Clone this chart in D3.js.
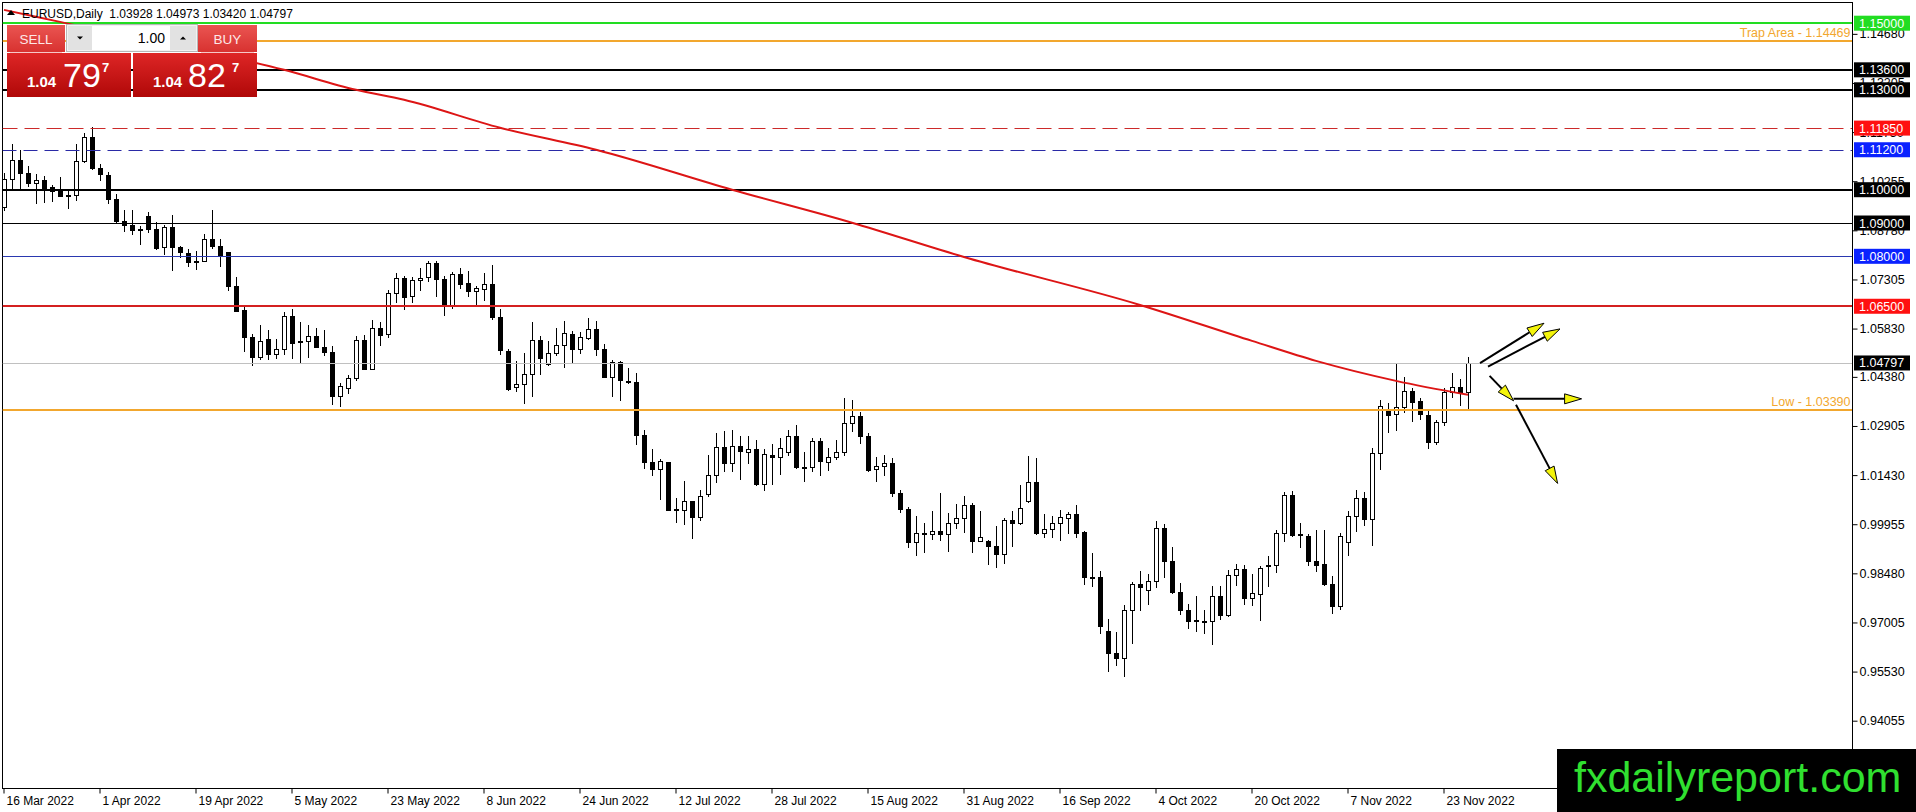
<!DOCTYPE html>
<html><head><meta charset="utf-8">
<script src="https://cdn.jsdelivr.net/npm/d3@7"></script>
<style>html,body{margin:0;padding:0;background:#fff;overflow:hidden}
text{font-family:"Liberation Sans",Arial,sans-serif}</style>
</head><body><svg id="c" width="1916" height="812"></svg>
<script>
// ---------------- DATA ----------------
const opens=[1.0948,1.1032,1.1090,1.1050,1.1020,1.1029,1.1009,1.1002,1.0984,1.0984,
1.1086,1.1158,1.1065,1.1044,1.0972,1.0906,1.0894,1.0881,1.0922,1.0882,
1.0828,1.0888,1.0829,1.0810,1.0786,1.0786,1.0853,1.0832,1.0812,1.0710,
1.0640,1.0558,1.0498,1.0552,1.0508,1.0522,1.0620,1.0546,1.0546,1.0562,
1.0529,1.0513,1.0380,1.0405,1.0435,1.0549,1.0462,1.0585,1.0567,1.0690,
1.0735,1.0680,1.0729,1.0738,1.0780,1.0732,1.0655,1.0747,1.0720,1.0695,
1.0702,1.0717,1.0618,1.0516,1.0407,1.0416,1.0447,1.0548,1.0476,1.0509,
1.0534,1.0566,1.0521,1.0554,1.0581,1.0521,1.0439,1.0482,1.0425,1.0422,
1.0264,1.0182,1.0161,1.0181,1.0041,1.0037,1.0064,1.0016,1.0086,1.0142,
1.0228,1.0178,1.0231,1.0212,1.0221,1.0116,1.0203,1.0197,1.0212,1.0261,
1.0167,1.0167,1.0245,1.0182,1.0197,1.0212,1.0299,1.0321,1.0261,1.0161,
1.0171,1.0179,1.0089,1.0041,0.9941,0.9969,0.9966,0.9975,0.9966,0.9999,
1.0014,1.0053,0.9944,0.9944,0.9931,0.9906,1.0009,0.9999,1.0064,1.0122,
0.9969,0.9981,0.9999,1.0014,1.0027,0.9973,0.9838,0.9837,0.9675,0.9609,
0.9594,0.9737,0.9816,0.9797,0.9824,0.9984,0.9886,0.9792,0.9739,0.9707,
0.9704,0.9704,0.9779,0.9722,0.9843,0.9862,0.9774,0.9786,0.9872,0.9874,
0.9969,1.0084,0.9966,0.9961,0.9886,0.9877,0.9817,0.9749,0.9941,1.0019,
1.0074,1.0012,1.0209,1.0336,1.0326,1.0346,1.0396,1.0366,1.0324,1.0241,
1.0302,1.0394,1.0409,1.03928];
const highs=[1.1050,1.1138,1.1118,1.1072,1.1048,1.1040,1.1015,1.1038,1.0998,1.1138,
1.1170,1.1188,1.1078,1.1054,1.0988,1.0940,1.0940,1.0892,1.0934,1.0902,
1.0894,1.0924,1.0832,1.0822,1.0816,1.0867,1.0938,1.0852,1.0814,1.0738,
1.0654,1.0567,1.0594,1.0580,1.0552,1.0632,1.0643,1.0602,1.0594,1.0586,
1.0580,1.0532,1.0420,1.0445,1.0560,1.0565,1.0610,1.0602,1.0700,1.0750,
1.0742,1.0738,1.0765,1.0787,1.0785,1.0742,1.0752,1.0765,1.0755,1.0712,
1.0750,1.0775,1.0642,1.0521,1.0486,1.0511,1.0603,1.0561,1.0546,1.0586,
1.0606,1.0576,1.0572,1.0614,1.0606,1.0537,1.0489,1.0486,1.0464,1.0449,
1.0277,1.0221,1.0191,1.0181,1.0074,1.0124,1.0064,1.0099,1.0204,1.0269,
1.0276,1.0279,1.0259,1.0261,1.0249,1.0221,1.0237,1.0254,1.0277,1.0294,
1.0211,1.0255,1.0255,1.0224,1.0249,1.0374,1.0368,1.0331,1.0269,1.0197,
1.0204,1.0194,1.0099,1.0047,1.0021,0.9999,1.0036,1.0089,1.0029,1.0056,
1.0081,1.0059,1.0036,0.9947,0.9989,1.0014,1.0034,1.0114,1.0200,1.0195,
1.0027,1.0021,1.0037,1.0031,1.0054,0.9976,0.9909,0.9854,0.9711,0.9672,
0.9754,0.9821,0.9856,0.9846,1.0004,0.9997,0.9927,0.9819,0.9757,0.9779,
0.9737,0.9809,0.9811,0.9857,0.9877,0.9874,0.9847,0.9869,0.9899,0.9979,
1.0091,1.0096,0.9999,0.9966,0.9979,0.9979,0.9841,0.9969,1.0036,1.0099,
1.0091,1.0224,1.0369,1.0359,1.0481,1.0437,1.0406,1.0376,1.0336,1.0309,
1.0404,1.0451,1.0431,1.04973];
const lows=[1.0940,1.1005,1.1005,1.1010,1.0960,1.0962,1.0965,1.0980,1.0944,1.0968,
1.1082,1.1062,1.1028,1.0960,1.0902,1.0875,1.0867,1.0836,1.0872,1.0822,
1.0808,1.0758,1.0798,1.0770,1.0762,1.0785,1.0824,1.0770,1.0698,1.0635,
1.0515,1.0473,1.0492,1.0492,1.0495,1.0507,1.0495,1.0482,1.0497,1.0527,
1.0503,1.0357,1.0350,1.0390,1.0428,1.0462,1.0462,1.0533,1.0557,1.0662,
1.0642,1.0662,1.0698,1.0725,1.0680,1.0625,1.0645,1.0705,1.0682,1.0655,
1.0670,1.0612,1.0508,1.0399,1.0397,1.0359,1.0382,1.0446,1.0474,1.0504,
1.0469,1.0481,1.0511,1.0551,1.0503,1.0437,1.0382,1.0369,1.0419,1.0236,
1.0164,1.0144,1.0071,1.0037,1.0001,0.9997,0.9953,1.0007,1.0079,1.0121,
1.0156,1.0154,1.0131,1.0179,1.0114,1.0099,1.0116,1.0146,1.0204,1.0164,
1.0124,1.0154,1.0142,1.0159,1.0191,1.0204,1.0274,1.0239,1.0154,1.0124,
1.0144,1.0079,1.0031,0.9927,0.9903,0.9911,0.9951,0.9947,0.9914,0.9984,
0.9971,0.9911,0.9944,0.9877,0.9867,0.9879,0.9931,0.9996,1.0061,0.9967,
0.9957,0.9957,0.9949,0.9969,0.9957,0.9817,0.9809,0.9669,0.9554,0.9574,
0.9539,0.9639,0.9737,0.9756,0.9807,0.9837,0.9789,0.9727,0.9684,0.9674,
0.9669,0.9636,0.9711,0.9719,0.9814,0.9757,0.9754,0.9709,0.9809,0.9851,
0.9944,0.9959,0.9927,0.9874,0.9854,0.9814,0.9729,0.9741,0.9904,0.9974,
0.9994,0.9934,1.0161,1.0271,1.0279,1.0331,1.0304,1.0311,1.0224,1.0236,
1.0294,1.0379,1.0354,1.03420];
const closes=[1.1032,1.1090,1.1050,1.1020,1.1029,1.1002,1.0996,1.0980,1.0983,1.1086,
1.1158,1.1064,1.1047,1.0972,1.0905,1.0894,1.0878,1.0878,1.0882,1.0824,
1.0888,1.0827,1.0812,1.0782,1.0783,1.0853,1.0830,1.0802,1.0710,1.0635,
1.0557,1.0497,1.0546,1.0508,1.0522,1.0620,1.0540,1.0543,1.0560,1.0527,
1.0512,1.0380,1.0410,1.0435,1.0549,1.0462,1.0585,1.0563,1.0690,1.0735,
1.0677,1.0730,1.0735,1.0780,1.0732,1.0655,1.0747,1.0717,1.0695,1.0705,
1.0717,1.0617,1.0518,1.0402,1.0416,1.0447,1.0548,1.0494,1.0509,1.0534,
1.0569,1.0521,1.0557,1.0581,1.0521,1.0439,1.0482,1.0428,1.0422,1.0262,
1.0181,1.0161,1.0184,1.0039,1.0037,1.0064,1.0016,1.0081,1.0144,1.0228,
1.0178,1.0231,1.0214,1.0221,1.0116,1.0206,1.0197,1.0224,1.0261,1.0166,
1.0166,1.0245,1.0184,1.0197,1.0212,1.0299,1.0321,1.0259,1.0159,1.0171,
1.0179,1.0089,1.0041,0.9941,0.9969,0.9967,0.9975,0.9966,0.9999,1.0014,
1.0053,0.9944,0.9958,0.9929,0.9906,1.0009,0.9999,1.0044,1.0122,0.9969,
0.9981,0.9999,1.0017,1.0027,0.9969,0.9837,0.9836,0.9689,0.9609,0.9594,
0.9737,0.9816,0.9806,0.9824,0.9984,0.9884,0.9791,0.9739,0.9704,0.9704,
0.9706,0.9781,0.9722,0.9843,0.9862,0.9774,0.9789,0.9864,0.9874,0.9969,
1.0084,0.9964,0.9964,0.9884,0.9874,0.9817,0.9749,0.9961,1.0021,1.0074,
1.0012,1.0209,1.0351,1.0324,1.0347,1.0396,1.0364,1.0326,1.0241,1.0302,
1.0394,1.0409,1.0392,1.04797];

// moving average (read at sample bars)
const maBars=[0,7,35,44,50,62,74,91,106,120,142,156,164,174,183];
const maValues=[1.1540,1.1504,1.1360,1.1300,1.1270,1.1186,1.1120,1.1000,1.0901,1.0798,1.0654,1.0546,1.0486,1.0426,1.0384];

// horizontal levels
const levelValues=[1.15000,1.14469,1.13600,1.13000,1.11850,1.11200,1.10000,1.09000,1.08000,1.06500,1.04797,1.03390];
const levelNames =["green","trap","black2","black2","reddash","bluedash","black2","black1","blue1","red2","bid","low"];
const levelTexts ={trap:"Trap Area - 1.14469",low:"Low - 1.03390"};

// price axis
const priceTicks=[1.14680,1.13205,1.11730,1.10255,1.08780,1.07305,1.05830,1.04380,1.02905,1.01430,0.99955,0.98480,0.97005,0.95530,0.94055];
const priceBoxes=[1.15000,1.13600,1.13000,1.11850,1.11200,1.10000,1.09000,1.08000,1.06500,1.04797];
const priceBoxKinds=["green","black","black","red","blue","black","black","blue","red","black"];

// time axis
const dateLabels=["16 Mar 2022","1 Apr 2022","19 Apr 2022","5 May 2022","23 May 2022","8 Jun 2022","24 Jun 2022","12 Jul 2022","28 Jul 2022","15 Aug 2022","31 Aug 2022","16 Sep 2022","4 Oct 2022","20 Oct 2022","7 Nov 2022","23 Nov 2022"];
const dateBars=[0,12,24,36,48,60,72,84,96,108,120,132,144,156,168,180];

// arrows (bar index, price)
const arrowFrom=[[184.5,1.0479],[185.5,1.0469],[185.7,1.0441],[188.7,1.0372],[189.0,1.0354]];
const arrowTo  =[[192.5,1.0599],[194.5,1.0582],[188.7,1.0366],[197.2,1.0372],[194.2,1.0118]];

const titleText="EURUSD,Daily  1.03928 1.04973 1.03420 1.04797";

// ---------------- STYLE / LAYOUT ----------------
const L=2.5,R=1852.5,T=2.5,B=788.5;
const styles={
 green:{c:"#22dd22",w:2},trap:{c:"#f2a72e",w:2},black2:{c:"#000",w:2},black1:{c:"#000",w:1},
 reddash:{c:"#cc2a2a",w:1,d:"15,7"},bluedash:{c:"#2a2aa6",w:1,d:"14,7"},blue1:{c:"#2a38b0",w:1},
 red2:{c:"#d42020",w:2},bid:{c:"#c0c0c0",w:1},low:{c:"#f2a72e",w:2}};
const boxColors={green:"#22dd22",black:"#000",red:"#ff1010",blue:"#0a22ff"};

const svg=d3.select("#c");
const x=d3.scaleLinear().domain([0,183]).range([4,1468]);
const y=d3.scaleLinear().domain([1.15,0.94055]).range([23.2,720.7]);

const defs=svg.append("defs");
function grad(id,c1,c2){const g=defs.append("linearGradient").attr("id",id).attr("x1",0).attr("y1",0).attr("x2",0).attr("y2",1);
 g.append("stop").attr("offset","0%").attr("stop-color",c1);g.append("stop").attr("offset","100%").attr("stop-color",c2);}
grad("gSell","#ea5552","#d83230");grad("gPrice","#de2626","#b00808");

const clip=defs.append("clipPath").attr("id","plotclip");
clip.append("rect").attr("x",L).attr("y",T).attr("width",R-L).attr("height",B-T);

// frame
svg.append("rect").attr("x",L).attr("y",T).attr("width",R-L).attr("height",B-T)
  .attr("fill","#fff").attr("stroke","#000").attr("stroke-width",1);

const plot=svg.append("g").attr("clip-path","url(#plotclip)");

// candles
const bars=d3.range(opens.length);
const cg=plot.append("g").attr("shape-rendering","crispEdges");
cg.selectAll("line.w").data(bars).join("line").attr("class","w")
  .attr("x1",i=>Math.round(x(i))+0.5).attr("x2",i=>Math.round(x(i))+0.5)
  .attr("y1",i=>Math.round(y(highs[i]))).attr("y2",i=>Math.round(y(lows[i]))+1)
  .attr("stroke","#000").attr("stroke-width",1);
cg.selectAll("rect.b").data(bars).join("rect").attr("class","b")
  .each(function(i){
    const up=closes[i]>=opens[i];
    const top=Math.round(y(Math.max(opens[i],closes[i])));
    const bot=Math.round(y(Math.min(opens[i],closes[i])));
    const h=Math.max(bot-top,1);
    const px=Math.round(x(i));
    const s=d3.select(this);
    if(up){s.attr("x",px-1.5).attr("y",top+0.5).attr("width",4).attr("height",h).attr("fill","#fff").attr("stroke","#000").attr("stroke-width",1);}
    else{s.attr("x",px-2).attr("y",top).attr("width",5).attr("height",h+1).attr("fill","#000");}
  });

// levels
const lg=plot.append("g");
levelValues.forEach((v,i)=>{
  const st=styles[levelNames[i]];
  const yy=Math.round(y(v))+(st.w%2?0.5:0);
  lg.append("line").attr("x1",L).attr("x2",R).attr("y1",yy).attr("y2",yy)
    .attr("stroke",st.c).attr("stroke-width",st.w).attr("stroke-dasharray",st.d||null);
  const t=levelTexts[levelNames[i]];
  if(t) lg.append("text").attr("x",R-2).attr("y",yy-4).attr("text-anchor","end")
    .attr("font-size","12.5px").attr("fill","#f2a72e").text(t);
});

// moving average
const maLine=d3.line().x(d=>x(d[0])).y(d=>y(d[1])).curve(d3.curveMonotoneX);
plot.append("path").datum(maBars.map((b,i)=>[b,maValues[i]])).attr("d",maLine)
  .attr("fill","none").attr("stroke","#dd1515").attr("stroke-width",2);

// arrows
const ag=plot.append("g");
arrowFrom.forEach((f,i)=>{
  const p0=[x(f[0]),y(f[1])],p1=[x(arrowTo[i][0]),y(arrowTo[i][1])];
  const dx=p1[0]-p0[0],dy=p1[1]-p0[1],len=Math.hypot(dx,dy),ux=dx/len,uy=dy/len;
  const hl=17,hw=5;
  const bx=p1[0]-ux*hl,by=p1[1]-uy*hl;
  ag.append("line").attr("x1",p0[0]).attr("y1",p0[1]).attr("x2",bx).attr("y2",by)
    .attr("stroke","#000").attr("stroke-width",2);
  ag.append("path").attr("d",`M${p1[0]},${p1[1]}L${bx-uy*hw},${by+ux*hw}L${bx+uy*hw},${by-ux*hw}Z`)
    .attr("fill","#f4f40a").attr("stroke","#000").attr("stroke-width",1);
});

// right price axis
const yAxis=d3.axisRight(y).tickValues(priceTicks).tickFormat(d3.format(".5f")).tickSize(5).tickPadding(2).tickSizeOuter(0);
const ya=svg.append("g").attr("transform",`translate(${R},0)`).call(yAxis);
ya.select(".domain").remove();
ya.selectAll("text").attr("font-size","12.5px").attr("fill","#000").style("font-family",'"Liberation Sans",Arial,sans-serif');
ya.selectAll("line").attr("stroke","#000");

// price boxes
const bg=svg.append("g");
priceBoxes.forEach((v,i)=>{
  const yy=y(v);
  bg.append("rect").attr("x",1854).attr("y",yy-7.5).attr("width",56).attr("height",15).attr("fill",boxColors[priceBoxKinds[i]]);
  bg.append("text").attr("x",1859).attr("y",yy).attr("dy","0.36em").attr("font-size","12.5px").attr("fill","#fff").text(d3.format(".5f")(v));
});

// bottom time axis
const xAxis=d3.axisBottom(x).tickValues(dateBars).tickFormat((d,i)=>dateLabels[i]).tickSize(5).tickPadding(3).tickSizeOuter(0);
const xa=svg.append("g").attr("transform",`translate(0,${B})`).call(xAxis);
xa.select(".domain").remove();
xa.selectAll(".tick line").attr("transform","translate(-0.5,0)").attr("stroke","#000");
xa.selectAll("text").attr("text-anchor","start").attr("dx","2").attr("font-size","12px").attr("fill","#000").style("font-family",'"Liberation Sans",Arial,sans-serif');

// right border line redraw (axis line)
svg.append("line").attr("x1",R).attr("x2",R).attr("y1",T).attr("y2",B).attr("stroke","#000");

// title
svg.append("path").attr("d","M7,15L15,15L11,10Z").attr("fill","#000");
svg.append("text").attr("x",22).attr("y",17.5).attr("font-size","12px").attr("fill","#000")
  .style("white-space","pre").text(titleText);

// one-click trading panel
const pn=svg.append("g");
pn.append("rect").attr("x",7).attr("y",25).attr("width",58).attr("height",27).attr("fill","url(#gSell)");
pn.append("line").attr("x1",10).attr("x2",62).attr("y1",52.5).attr("y2",52.5).attr("stroke","#f6c8c8");
pn.append("text").attr("x",36).attr("y",44).attr("text-anchor","middle").attr("font-size","13.5px").attr("fill","#fde8e8").text("SELL");
pn.append("rect").attr("x",66.5).attr("y",24.5).attr("width",131).attr("height",27).attr("fill","#f2f2f2").attr("stroke","#b8b8b8");
pn.append("rect").attr("x",68).attr("y",26).attr("width",24).attr("height",24).attr("fill","#e2e2e2");
pn.append("path").attr("d","M77,36.5L83,36.5L80,39.5Z").attr("fill","#000");
pn.append("rect").attr("x",92).attr("y",26).attr("width",78).attr("height",24).attr("fill","#fff");
pn.append("text").attr("x",165).attr("y",43).attr("text-anchor","end").attr("font-size","14px").attr("fill","#000").text("1.00");
pn.append("rect").attr("x",170).attr("y",26).attr("width",26).attr("height",24).attr("fill","#e2e2e2");
pn.append("path").attr("d","M180,39.5L186,39.5L183,36.5Z").attr("fill","#000");
pn.append("rect").attr("x",198).attr("y",25).attr("width",59).attr("height",27).attr("fill","url(#gSell)");
pn.append("line").attr("x1",201).attr("x2",254).attr("y1",52.5).attr("y2",52.5).attr("stroke","#f6c8c8");
pn.append("text").attr("x",227.5).attr("y",44).attr("text-anchor","middle").attr("font-size","13.5px").attr("fill","#fde8e8").text("BUY");
pn.append("rect").attr("x",7).attr("y",53).attr("width",124).attr("height",44).attr("fill","url(#gPrice)");
pn.append("rect").attr("x",133).attr("y",53).attr("width",124).attr("height",44).attr("fill","url(#gPrice)");
[[27,63,102,"79"],[153,188,232,"82"]].forEach(a=>{
  pn.append("text").attr("x",a[0]).attr("y",87).attr("font-size","15px").attr("font-weight","bold").attr("fill","#fff").text("1.04");
  pn.append("text").attr("x",a[1]).attr("y",87).attr("font-size","34px").attr("fill","#fff").text(a[3]);
  pn.append("text").attr("x",a[2]).attr("y",72).attr("font-size","13px").attr("font-weight","bold").attr("fill","#fff").text("7");
});

// watermark
svg.append("rect").attr("x",1557).attr("y",749).attr("width",359).attr("height",63).attr("fill","#000");
svg.append("text").attr("x",1574).attr("y",792).attr("font-size","43px").attr("fill","#30e030").text("fxdailyreport.com");
</script></body></html>
